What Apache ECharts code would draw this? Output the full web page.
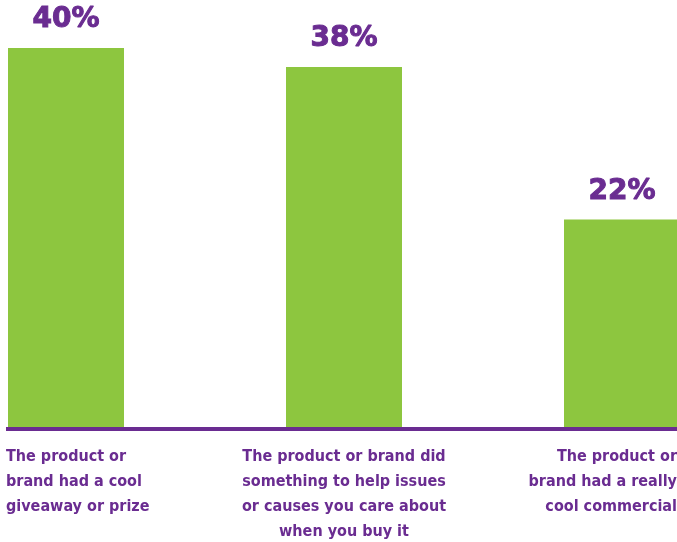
<!DOCTYPE html>
<html>
<head>
<meta charset="utf-8">
<script src="https://cdn.jsdelivr.net/npm/echarts@6/dist/echarts.min.js"></script>
<style>
  html, body { margin: 0; padding: 0; background: #ffffff; }
  #chart { width: 677px; height: 542px; }
</style>
</head>
<body>
<div id="chart"></div>
<script>
const categories = [
  'The product or\nbrand had a cool\ngiveaway or prize',
  'The product or brand did\nsomething to help issues\nor causes you care about\nwhen you buy it',
  'The product or\nbrand had a really\ncool commercial'
];
const values = [40, 38, 22];
const labelAligns = ['left', 'center', 'right'];

const purple = '#6a2c91';
const green = '#8dc63f';
const catFont = '"Liberation Sans Narrow", "Arial Narrow", "DejaVu Sans Condensed", sans-serif';

const labelPads = [[0, 0, 0, -60], [0, 0, 0, 0], [0, -55, 0, 0]];

const chart = echarts.init(document.getElementById('chart'), null, { renderer: 'canvas' });
chart.setOption({
  animation: false,
  backgroundColor: '#ffffff',
  grid: { left: -73, right: -84, top: 48, bottom: 113, containLabel: false, outerBoundsMode: 'none' },
  xAxis: {
    type: 'category',
    data: categories.map((c, i) => ({
      value: c,
      textStyle: { align: labelAligns[i], padding: labelPads[i] }
    })),
    axisLine: { show: false },
    axisTick: { show: false },
    axisLabel: {
      interval: 0,
      margin: 15,
      color: purple,
      fontFamily: catFont,
      fontWeight: 'bold',
      fontSize: 16,
      lineHeight: 25
    }
  },
  yAxis: {
    type: 'value',
    min: 0,
    max: 40,
    show: false,
    splitLine: { show: false }
  },
  series: [{
    type: 'bar',
    data: values,
    barWidth: 116,
    itemStyle: { color: green },
    label: {
      show: true,
      position: 'top',
      distance: 14,
      formatter: p => p.value + '%',
      color: purple,
      fontFamily: '"DejaVu Sans", sans-serif',
      fontWeight: 'bold',
      fontSize: 28,
      textBorderColor: purple,
      textBorderWidth: 1
    }
  }],
  graphic: [{
    type: 'rect',
    shape: { x: 6, y: 427, width: 671, height: 4 },
    style: { fill: purple },
    z: 10
  }]
});
</script>
</body>
</html>
